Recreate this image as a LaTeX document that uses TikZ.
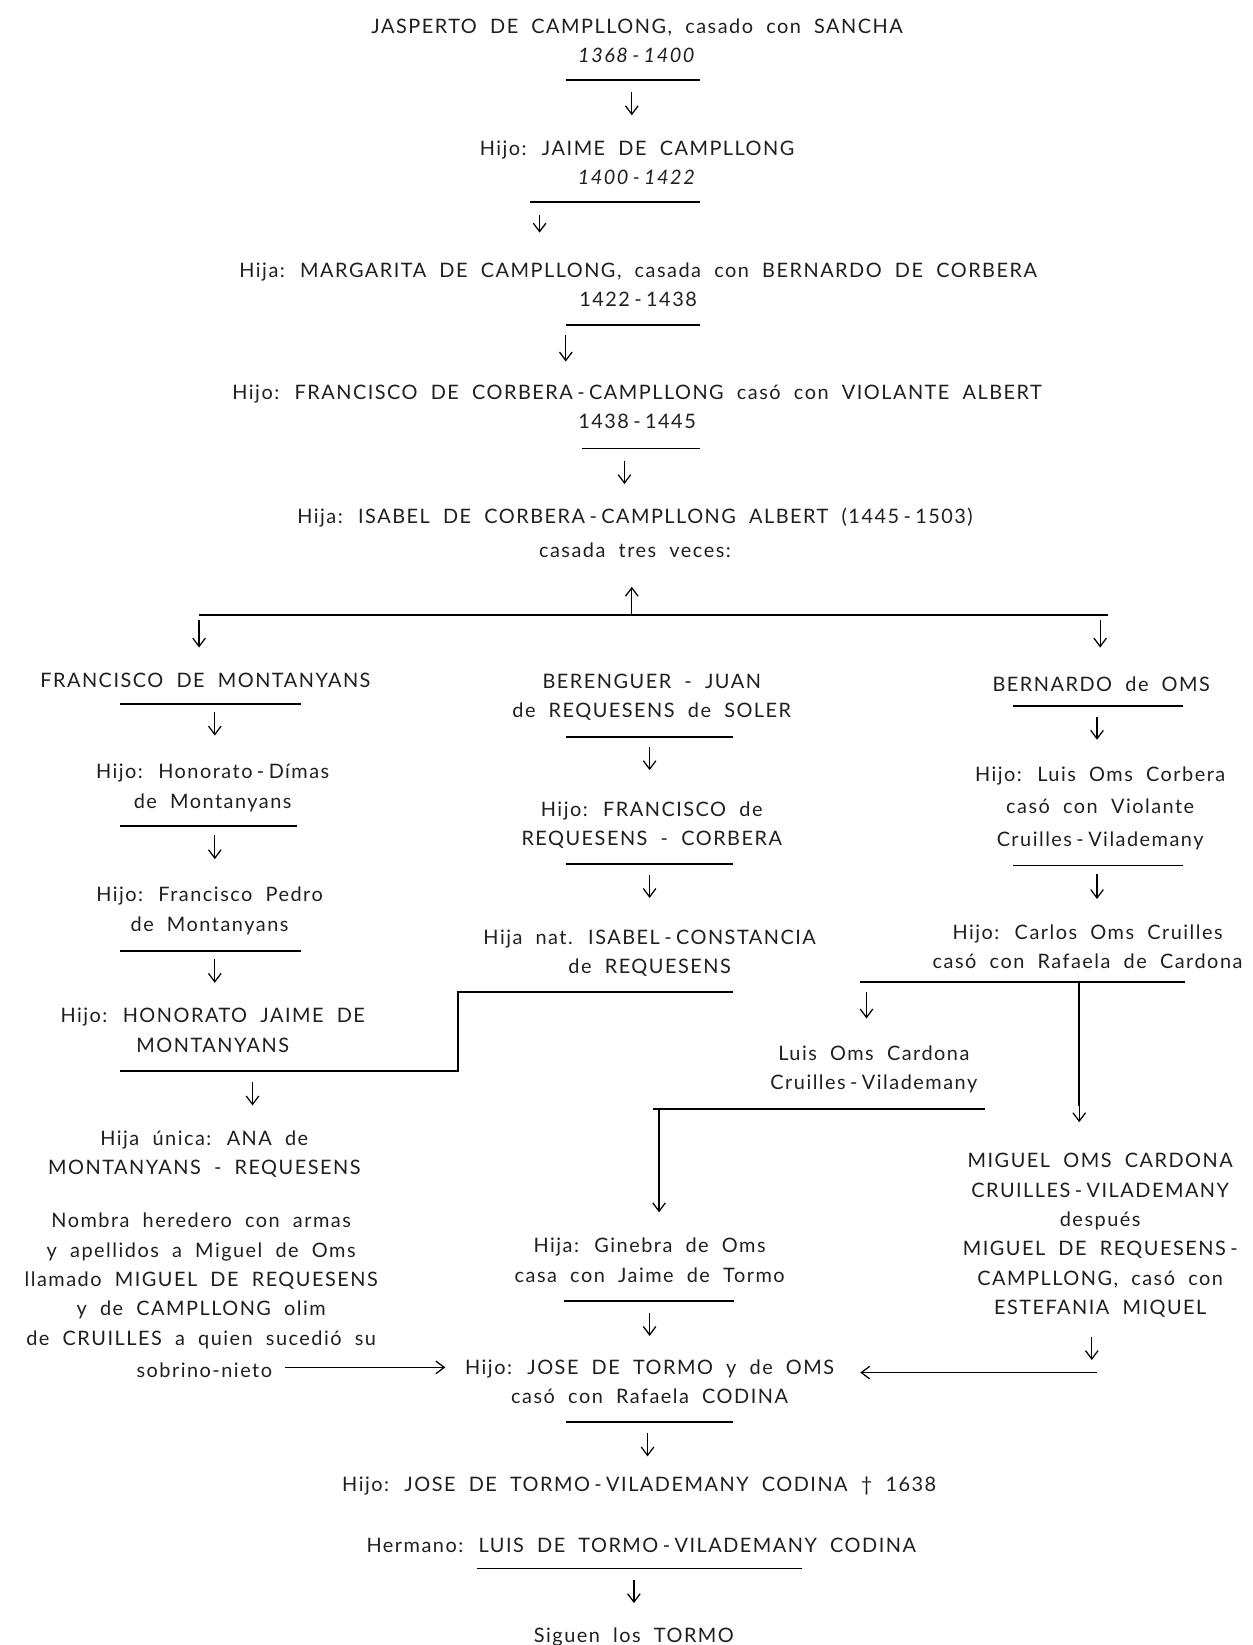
\documentclass[tikz,border=0pt]{standalone}
\usepackage{fontspec}
\setmainfont{Lato}[LetterSpace=7.5, WordSpace=2.0]
\usetikzlibrary{arrows.meta}
\newcommand\fs{\fontsize{9.5}{14}\selectfont}
\newcommand\hy{\hspace{0.22em}-\hspace{0.22em}}
\newcommand\DArr[4]{\coordinate (#1s) at (#2,#3); \coordinate (#1e) at (#2,#4); \draw[arr] (#1s) -- (#1e);}
\newcommand\ULine[4]{\coordinate (#1a) at (#2,#4); \coordinate (#1b) at (#3,#4); \draw[uline] (#1a) -- (#1b);}
\tikzset{
  txt/.style={inner sep=0pt, align=center, font=\fs, text=black!88, yshift=-2pt,
    execute at begin node=\strut, execute at end node=\strut},
  uline/.style={line width=0.9pt},
  conn/.style={line width=1pt},
  arr/.style={line width=0.6pt, -{Straight Barb[length=4pt,width=6pt]}},
}
\begin{document}
\begin{tikzpicture}[x=0.5pt, y=-0.5pt]
\fill[white] (0,0) rectangle (1195,1570);
\useasboundingbox (0,0) rectangle (1195,1570);

% main line
\node[txt] (n1) at (608,39) {JASPERTO DE CAMPLLONG, casado con SANCHA\\\textit{1368\hy 1400}};
\ULine{u1}{540}{668}{76}
\DArr{a1}{603}{88}{110}
\node[txt] (n2) at (608,155.5) {Hijo: JAIME DE CAMPLLONG\\\textit{1400\hy 1422}};
\ULine{u2}{506}{668}{193}
\DArr{a2}{515}{205}{222}
\node[txt] (n3) at (609,272) {Hija: MARGARITA DE CAMPLLONG, casada con BERNARDO DE CORBERA\\1422\hy 1438};
\ULine{u3}{540}{668}{310}
\DArr{a3}{540}{320}{345}
\node[txt] (n4) at (608,388.5) {Hijo: FRANCISCO DE CORBERA\hy CAMPLLONG casó con VIOLANTE ALBERT\\1438\hy 1445};
\ULine{u4}{555}{668}{428}
\DArr{a4}{596}{440}{462}
\node[txt] (n5) at (606,508.5) {Hija: ISABEL DE CORBERA\hy CAMPLLONG ALBERT (1445\hy 1503)\\[2.5pt]casada tres veces:};
\DArr{a5}{603}{586}{560}
\coordinate (brL) at (190,587);
\coordinate (brR) at (1057,587);
\draw[line width=1.2pt] (brL) -- (brR);
\DArr{bl}{190}{592}{618}
\DArr{br}{1050}{592}{618}

% left column
\node[txt] (L1) at (196,647) {FRANCISCO DE MONTANYANS};
\ULine{lu1}{115}{287}{672}
\DArr{la1}{205}{680}{702}
\node[txt] (L2) at (203,750.5) {Hijo: Honorato\hy Dímas\\de Montanyans};
\ULine{lu2}{115}{283}{788}
\DArr{la2}{205}{797}{820}
\node[txt] (L3) at (200,868) {Hijo: Francisco Pedro\\de Montanyans};
\ULine{lu3}{115}{287}{908}
\DArr{la3}{205}{915}{938}
\node[txt] (L4) at (203,983.5) {Hijo: HONORATO JAIME DE\\MONTANYANS};
\DArr{la4}{241}{1033}{1055}
\node[txt] (L5) at (195,1100) {Hija única: ANA de\\MONTANYANS - REQUESENS};
\node[txt] (L6) at (192,1221) {Nombra heredero con armas\\y apellidos a Miguel de Oms\\llamado MIGUEL DE REQUESENS\\y de CAMPLLONG olim\\de CRUILLES a quien sucedió su};
\node[txt] (L7) at (195,1305) {sobrino-nieto};

% middle column
\node[txt] (M1) at (622,664.5) {BERENGUER - JUAN\\de REQUESENS de SOLER};
\ULine{mu1}{540}{700}{703}
\DArr{ma1}{620}{713}{735}
\node[txt] (M2) at (622,786.5) {Hijo: FRANCISCO de\\REQUESENS - CORBERA};
\ULine{mu2}{540}{700}{825}
\DArr{ma2}{620}{835}{857}
\node[txt] (M3) at (620,908.5) {Hija nat. ISABEL\hy CONSTANCIA\\de REQUESENS};
\coordinate (mj1) at (700,947);
\coordinate (mj2) at (437,947);
\coordinate (mj3) at (437,1022);
\coordinate (mj4) at (115,1022);
\draw[conn] (mj1) -- (mj2) -- (mj3) -- (mj4);

% right column
\node[txt] (R1) at (1051,650) {BERNARDO de OMS};
\ULine{ru1}{967}{1129}{674}
\DArr{ra1}{1047}{684}{706}
\node[txt] (R2) at (1050,770) {Hijo: Luis Oms Corbera\\[1.5pt]casó con Violante\\[1.5pt]Cruilles\hy Vilademany};
\ULine{ru2}{967}{1129}{826}
\DArr{ra2}{1047}{834}{858}
\node[txt] (R3) at (1038,904) {Hijo: Carlos Oms Cruilles\\casó con Rafaela de Cardona};
\ULine{ru3}{821}{1131}{937}
\DArr{ra3}{827}{947}{972}
\coordinate (rv1) at (1030,937);
\coordinate (rv2) at (1030,1056);
\coordinate (rv3) at (1030,1071);
\draw[conn] (rv1) -- (rv2);
\draw[arr] (rv2) -- (rv3);
\node[txt] (R4) at (834,1019) {Luis Oms Cardona\\Cruilles\hy Vilademany};
\ULine{ru4}{623}{940}{1058}
\coordinate (gv1) at (629,1058);
\coordinate (gv2) at (629,1140);
\coordinate (gv3) at (629,1157);
\draw[conn] (gv1) -- (gv2);
\draw[arr] (gv2) -- (gv3);
\node[txt] (M4) at (620,1203) {Hija: Ginebra de Oms\\casa con Jaime de Tormo};
\ULine{mu4}{538}{701}{1242}
\DArr{ma4}{620}{1253}{1275}
\node[txt] (R5) at (1050,1178) {MIGUEL OMS CARDONA\\CRUILLES\hy VILADEMANY\\después\\MIGUEL DE REQUESENS\hspace{0.22em}-\\CAMPLLONG, casó con\\ESTEFANIA MIQUEL};
\DArr{ra5}{1042}{1276}{1298}

% bottom
\node[txt] (J) at (620,1319) {Hijo: JOSE DE TORMO y de OMS\\casó con Rafaela CODINA};
\coordinate (ls) at (272,1305);
\coordinate (le) at (425,1305);
\draw[arr] (ls) -- (le);
\coordinate (rs) at (1047,1310);
\coordinate (re) at (821,1310);
\draw[arr] (rs) -- (re);
\ULine{ju}{540}{700}{1357}
\DArr{ja}{618}{1368}{1390}
\node[txt] (K) at (610,1414) {Hijo: JOSE DE TORMO\hy VILADEMANY CODINA † 1638};
\node[txt] (H) at (612,1472) {Hermano: LUIS DE TORMO\hy VILADEMANY CODINA};
\ULine{hu}{455}{765}{1497}
\DArr{ha}{605}{1508}{1530}
\node[txt] (S) at (605,1558) {Siguen los TORMO};
\end{tikzpicture}
\end{document}
